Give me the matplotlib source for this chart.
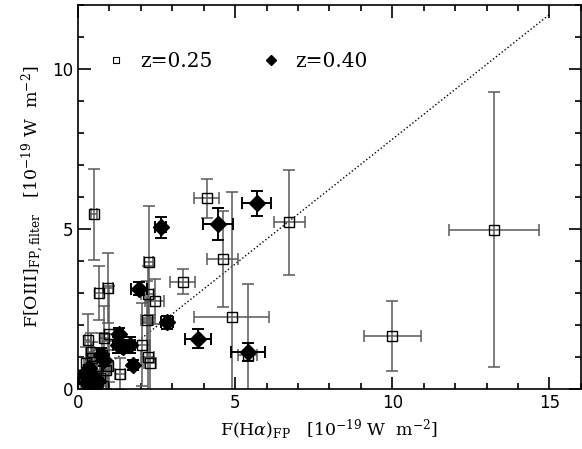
import matplotlib.pyplot as plt
import numpy as np

plt.rcParams['mathtext.fontset'] = 'dejavuserif'

# z=0.25 (open squares)
x_25 = [0.52, 0.66, 0.95, 2.25, 4.10, 3.33, 2.44, 2.22, 2.19, 2.03, 2.22, 2.29, 1.33,
        0.32, 0.41, 0.83, 0.98, 0.95, 4.60, 4.89, 5.40, 6.73, 13.24, 10.0,
        0.20, 0.30, 0.40, 0.50, 0.60, 0.70, 0.80, 0.90, 0.25, 0.15, 0.45, 0.75]
y_25 = [5.45, 3.00, 3.15, 3.95, 5.95, 3.35, 2.73, 2.95, 2.16, 1.38, 1.00, 0.81, 0.47,
        1.53, 1.16, 1.60, 1.70, 0.70, 4.07, 2.26, 1.07, 5.20, 4.98, 1.66,
        0.30, 0.15, 0.50, 0.20, 0.70, 0.35, 0.10, 0.60, 0.80, 0.10, 0.95, 1.05]
xe_25 = [0.10, 0.12, 0.15, 0.15, 0.40, 0.40, 0.30, 0.20, 0.20, 0.25, 0.20, 0.20, 0.15,
         0.10, 0.10, 0.12, 0.15, 0.12, 0.50, 1.20, 0.30, 0.50, 1.43, 0.90,
         0.05, 0.05, 0.08, 0.08, 0.10, 0.10, 0.10, 0.12, 0.05, 0.05, 0.08, 0.10]
ye_25 = [1.42, 0.85, 1.10, 1.75, 0.60, 0.40, 0.70, 0.90, 1.20, 1.30, 1.10, 1.50, 0.50,
         0.80, 0.60, 1.00, 1.50, 0.80, 1.50, 3.90, 2.20, 1.65, 4.30, 1.10,
         0.30, 0.20, 0.40, 0.30, 0.50, 0.40, 0.30, 0.60, 0.50, 0.20, 0.50, 0.70]

# z=0.40 (filled diamonds)
x_40 = [5.69, 4.45, 2.63, 3.81, 5.40, 2.83, 1.94, 1.30, 1.27, 1.43, 1.65, 1.75, 0.83, 0.73,
        0.30, 0.45, 0.55, 0.35, 0.65, 0.20, 0.40]
y_40 = [5.80, 5.15, 5.05, 1.57, 1.15, 2.08, 3.13, 1.70, 1.38, 1.32, 1.38, 0.75, 0.90, 1.07,
        0.20, 0.40, 0.10, 0.65, 0.25, 0.45, 0.05]
xe_40 = [0.46, 0.48, 0.17, 0.41, 0.54, 0.20, 0.25, 0.12, 0.15, 0.15, 0.15, 0.12, 0.10, 0.10,
         0.05, 0.05, 0.05, 0.05, 0.05, 0.05, 0.05]
ye_40 = [0.39, 0.50, 0.33, 0.30, 0.28, 0.20, 0.20, 0.20, 0.25, 0.20, 0.25, 0.15, 0.20, 0.20,
         0.10, 0.10, 0.10, 0.10, 0.10, 0.10, 0.10]

fig = plt.figure(figsize=(5.82, 4.49), dpi=100)
ax = fig.add_axes([0.134, 0.134, 0.864, 0.855])

ax.plot([0, 15], [0, 11.7], color='black', ls=':', lw=1)

ax.errorbar(x_25, y_25, xerr=xe_25, yerr=ye_25, fmt='none', ecolor='0.35',
            elinewidth=1.1, capsize=4, capthick=1.1)
ax.plot(x_25, y_25, 's', ms=7.5, mfc='none', mec='black', mew=1, ls='none')

ax.errorbar(x_40, y_40, xerr=xe_40, yerr=ye_40, fmt='none', ecolor='black',
            elinewidth=1.4, capsize=4, capthick=1.4)
ax.plot(x_40, y_40, 'D', ms=8, color='black', ls='none')

# legend
h1, = ax.plot([], [], 's', ms=5, mfc='none', mec='black', mew=0.8)
h2, = ax.plot([], [], 'D', ms=5, color='black')
ax.legend([h1, h2], ['z=0.25', 'z=0.40'], loc='upper left', ncol=2, frameon=False,
          prop={'family': 'DejaVu Serif', 'size': 14.5}, bbox_to_anchor=(0.0, 0.925),
          handletextpad=0.2, columnspacing=1.9)

ax.set_xlim(0, 16)
ax.set_ylim(0, 12)
ax.set_xticks([0, 5, 10, 15])
ax.set_yticks([0, 5, 10])
ax.set_xticks(np.arange(0, 17, 1), minor=True)
ax.set_yticks(np.arange(0, 13, 1), minor=True)
ax.tick_params(which='both', direction='in', top=True, right=True, width=1.2)
ax.tick_params(which='major', length=9, labelsize=12)
ax.tick_params(which='minor', length=4.5)
for s in ax.spines.values():
    s.set_linewidth(1.2)

ax.set_xlabel(r'F(H$\alpha$)$_{\rm FP}$   [10$^{-19}$ W  m$^{-2}$]', family='DejaVu Serif', fontsize=12.5)
ax.set_ylabel(r'F[OIII]$_{\rm FP,filter}$   [10$^{-19}$ W  m$^{-2}$]', family='DejaVu Serif', fontsize=12.5)

fig.savefig('out.png', dpi=100)
